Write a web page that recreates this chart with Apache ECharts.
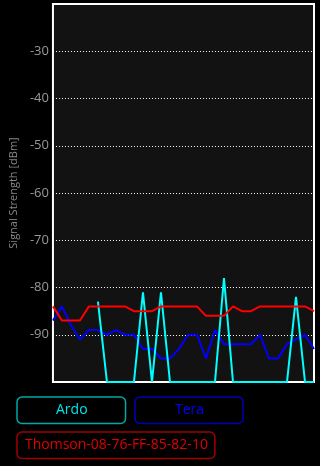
<!DOCTYPE html>
<html>
<head>
<meta charset="utf-8">
<script src="https://cdn.jsdelivr.net/npm/echarts@6/dist/echarts.min.js"></script>
<style>
html,body{margin:0;padding:0;background:#000;}
#c{width:320px;height:466px;}
</style>
</head>
<body>
<div id="c"></div>
<script>
var samples = ['1','2','3','4','5','6','7','8','9','10','11','12','13','14','15','16','17','18','19','20','21','22','23','24','25','26','27','28','29','30'];
var ardo = [null,null,null,null,null,-83,-100,-100,-100,-100,-81,-100,-81,-100,-100,-100,-100,-100,-100,-78,-100,-100,-100,-100,-100,-100,-100,-82,-100,-100];
var tera = [-87,-84,-88,-91,-89,-89,-90,-89,-90,-90,-93,-93,-95,-95,-93,-90,-90,-95,-89,-92,-92,-92,-92,-90,-95,-95,-92,-91,-90,-93];
var thomson = [-84,-87,-87,-87,-84,-84,-84,-84,-84,-85,-85,-85,-84,-84,-84,-84,-84,-86,-86,-86,-84,-85,-85,-84,-84,-84,-84,-84,-84,-85];
var yTicks = [-30,-40,-50,-60,-70,-80,-90];
var names = ['Ardo','Tera','Thomson-08-76-FF-85-82-10'];

var chart = echarts.init(document.getElementById('c'), null, {renderer:'canvas'});
var font = '"Open Sans", "Noto Sans", sans-serif';
function leg(name, left, top, pad, border, color){
  return {
    data:[{name:name, icon:'none'}],
    left:left, top:top, orient:'horizontal',
    itemWidth:0, itemHeight:15, itemGap:0,
    padding:pad, borderColor:border, borderWidth:1.5, borderRadius:5,
    selectedMode:false,
    textStyle:{color:color, fontSize:14, fontFamily:font}
  };
}
chart.setOption({
  backgroundColor:'#000',
  animation:false,
  grid:{left:49, right:6, top:4, bottom:84, show:true, backgroundColor:'#121212', borderColor:'#fff', borderWidth:2},
  legend:[
    leg(names[0], 17, 397, [6,38,6,34], '#00a8a8', '#00e6e6'),
    leg(names[1], 135, 397, [6,39,6,35], '#0000b8', '#0000ff'),
    leg(names[2], 17, 432, [6,7,6,3], '#a00000', '#e00000')
  ],
  xAxis:{type:'category', data:samples, boundaryGap:false, show:false},
  yAxis:{
    type:'value', min:-100, max:-20, interval:10,
    name:'Signal Strength [dBm]', nameLocation:'middle', nameGap:33, nameRotate:90,
    nameTextStyle:{color:'#888', fontSize:11, fontFamily:font},
    axisLine:{show:false}, axisTick:{show:false},
    axisLabel:{color:'#999', fontSize:13, fontFamily:font, margin:4,
      formatter:function(v){ return yTicks.indexOf(v) >= 0 ? String(v) : ''; }},
    splitLine:{show:true, lineStyle:{color:'#fff', width:1, type:[1,2]}}
  },
  series:[
    {name:names[0], type:'line', data:ardo, symbol:'none', connectNulls:false, lineStyle:{color:'#00ffff', width:2}, itemStyle:{color:'#00ffff'}, z:3},
    {name:names[1], type:'line', data:tera, symbol:'none', lineStyle:{color:'#0000ff', width:2}, itemStyle:{color:'#0000ff'}, z:2},
    {name:names[2], type:'line', data:thomson, symbol:'none', lineStyle:{color:'#ff0000', width:2}, itemStyle:{color:'#ff0000'}, z:4}
  ]
});
</script>
</body>
</html>
